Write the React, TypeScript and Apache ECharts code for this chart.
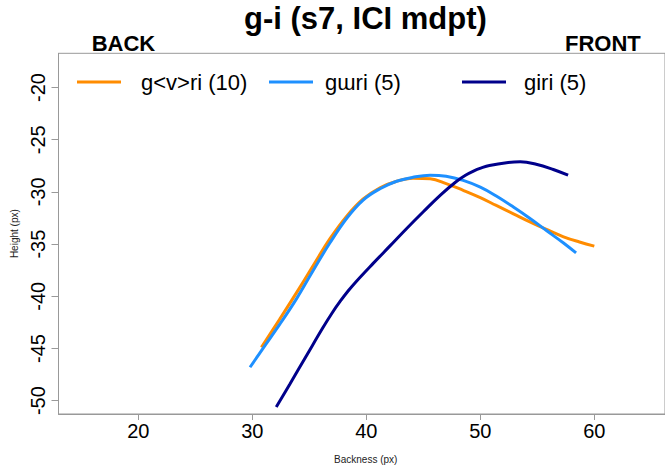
import React, { useEffect, useRef } from "react";
import * as echarts from "echarts";

const titleText = "g-i (s7, ICI mdpt)";
const backLabel = "BACK";
const frontLabel = "FRONT";
const xAxisName = "Backness (px)";
const yAxisName = "Height (px)";

const xTicks = [20, 30, 40, 50, 60];
const yTicks = [-50, -45, -40, -35, -30, -25, -20];

const seriesNames = ["g<v>ri (10)", "g\u026Fri (5)", "giri (5)"];
const seriesColors = ["#FF8C00", "#1E90FF", "#00008B"];

const gvriX = [30.8, 32.4, 34.2, 35.6, 36.8, 38.3, 39.7, 41.2, 42.6, 44.1, 45.6, 47.0, 48.5, 50.0, 51.4, 52.9, 54.3, 55.8, 57.3, 58.7, 60.0];
const gvriY = [-44.9, -42.2, -39.1, -36.6, -34.5, -32.3, -30.7, -29.6, -29.0, -28.7, -28.75, -29.2, -29.85, -30.55, -31.3, -32.1, -32.85, -33.6, -34.3, -34.8, -35.2];

const gwuriX = [29.8, 31.0, 32.4, 33.9, 35.3, 36.8, 38.3, 39.7, 41.2, 42.6, 44.1, 45.6, 47.0, 48.5, 50.0, 51.4, 52.9, 54.3, 55.8, 57.3, 58.4];
const gwuriY = [-46.8, -44.9, -42.7, -40.2, -37.6, -34.9, -32.5, -30.8, -29.7, -29.0, -28.6, -28.4, -28.5, -28.9, -29.55, -30.4, -31.45, -32.5, -33.7, -34.9, -35.85];

const giriX = [32.1, 33.3, 34.8, 36.2, 37.0, 37.7, 38.4, 39.1, 40.6, 42.1, 43.5, 45.0, 46.5, 47.9, 48.7, 49.4, 50.1, 50.8, 52.3, 53.5, 54.9, 56.4, 57.7];
const giriY = [-50.6, -48.4, -45.6, -43.0, -41.6, -40.5, -39.5, -38.6, -36.85, -35.15, -33.55, -31.9, -30.3, -29.0, -28.4, -28.0, -27.7, -27.47, -27.2, -27.12, -27.35, -27.85, -28.4];

const FONT = "'Liberation Sans', Arial, Helvetica, sans-serif";
const AXIS_GRAY = "#999999";

function pairs(xs: number[], ys: number[]) {
  return xs.map((x, i) => [x, ys[i]]);
}

export default function App() {
  const ref = useRef<HTMLDivElement>(null);

  useEffect(() => {
    if (!ref.current) return;
    const chart = echarts.init(ref.current, undefined, { renderer: "svg" });
    const allX = [gvriX, gwuriX, giriX];
    const allY = [gvriY, gwuriY, giriY];
    const legendLefts = [77, 269, 462];
    const legendPads = [15, 7, 13];

    chart.setOption({
      animation: false,
      backgroundColor: "#ffffff",
      title: {
        text: titleText,
        left: 244,
        top: 3,
        padding: 0,
        textStyle: { fontFamily: FONT, fontWeight: "bold", fontSize: 31, color: "#000" },
      },
      legend: seriesNames.map((name, i) => ({
        data: [name],
        left: legendLefts[i],
        top: 71,
        padding: 0,
        icon: "rect",
        itemWidth: 44,
        itemHeight: 3,
        textStyle: {
          fontFamily: FONT,
          fontSize: 22,
          color: "#000",
          padding: [0, 0, 0, legendPads[i]],
        },
      })),
      grid: {
        left: 58.5,
        right: 0,
        top: 53.3,
        bottom: 52.3,
        show: true,
        borderColor: AXIS_GRAY,
        borderWidth: 1,
        containLabel: false,
      },
      xAxis: {
        type: "value",
        min: 13,
        max: 66.2,
        name: xAxisName,
        nameLocation: "middle",
        nameGap: 40,
        nameTextStyle: { fontFamily: FONT, fontSize: 10, color: "#222", padding: [0, 0, 0, 8] },
        axisLine: { show: true, lineStyle: { color: AXIS_GRAY, width: 1 } },
        axisTick: { show: true, length: 6, lineStyle: { color: AXIS_GRAY }, customValues: xTicks },
        axisLabel: {
          fontFamily: FONT,
          fontSize: 20,
          color: "#000",
          margin: 7,
          customValues: xTicks,
        },
        splitLine: { show: false },
      },
      yAxis: {
        type: "value",
        min: -51.28,
        max: -16.72,
        name: yAxisName,
        nameLocation: "middle",
        nameGap: 38,
        nameTextStyle: { fontFamily: FONT, fontSize: 10, color: "#222" },
        axisLine: { show: true, lineStyle: { color: AXIS_GRAY, width: 1 } },
        axisTick: { show: true, length: 7, lineStyle: { color: AXIS_GRAY }, customValues: yTicks },
        axisLabel: {
          fontFamily: FONT,
          fontSize: 20,
          color: "#000",
          rotate: 90,
          margin: 11,
          customValues: yTicks,
        },
        splitLine: { show: false },
      },
      graphic: [
        {
          type: "text",
          left: 91.7,
          top: 32,
          style: { text: backLabel, font: `bold 22px ${FONT}`, fill: "#000" },
        },
        {
          type: "text",
          left: 565,
          top: 32,
          style: { text: frontLabel, font: `bold 22px ${FONT}`, fill: "#000" },
        },
      ],
      series: seriesNames.map((name, i) => ({
        name,
        type: "line",
        data: pairs(allX[i], allY[i]),
        smooth: 0.4,
        showSymbol: false,
        symbol: "none",
        lineStyle: {
          color: seriesColors[i],
          width: 3,
        },
        itemStyle: { color: seriesColors[i] },
      })),
    });

    return () => chart.dispose();
  }, []);

  return <div ref={ref} style={{ width: 665, height: 469, position: "absolute", left: 0, top: 0 }} />;
}
